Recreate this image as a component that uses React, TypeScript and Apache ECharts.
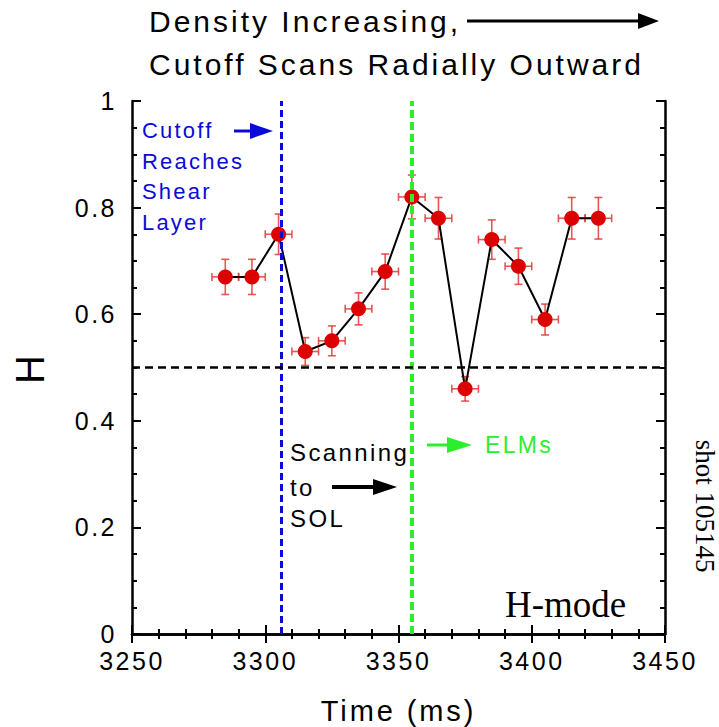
import React, { useEffect, useRef } from "react";
import * as echarts from "echarts";

const times = [3285, 3295, 3305, 3315, 3325, 3335, 3345, 3355, 3365, 3375, 3385, 3395, 3405, 3415, 3425];
const hValues = [0.67, 0.67, 0.75, 0.53, 0.55, 0.61, 0.68, 0.82, 0.78, 0.46, 0.74, 0.69, 0.59, 0.78, 0.78];
const hErrors = [0.033, 0.033, 0.038, 0.026, 0.028, 0.03, 0.033, 0.041, 0.039, 0.023, 0.037, 0.034, 0.029, 0.039, 0.039];
const timeErrors = [5, 5, 5, 5, 5, 5, 5, 5, 5, 5, 5, 5, 5, 5, 5];
const xTicks = [3250, 3300, 3350, 3400, 3450];
const yTicks = [0, 0.2, 0.4, 0.6, 0.8, 1];
const cutoffTime = 3306;
const elmTime = 3355;
const hThreshold = 0.5;

const SANS = "'Liberation Sans', Arial, Helvetica, sans-serif";
const SERIF = "'Liberation Serif', 'Times New Roman', serif";
const BLUE = "#0a0ad8";
const GREEN = "#2cee2c";
const RED = "#dd0000";

function arrow(x1: number, x2: number, y: number, color: string, headLen: number, headHalf: number, width: number) {
  return {
    type: "group",
    children: [
      { type: "line", shape: { x1, y1: y, x2: x2 - headLen + 2, y2: y }, style: { stroke: color, lineWidth: width } },
      {
        type: "polygon",
        shape: { points: [[x2 - headLen, y - headHalf], [x2, y], [x2 - headLen, y + headHalf]] },
        style: { fill: color },
      },
    ],
  };
}

function txt(text: string, x: number, y: number, size: number, color: string, family = SANS, extra: any = {}) {
  return {
    type: "text",
    x,
    y,
    ...extra,
    style: {
      text,
      fill: color,
      font: `${size}px ${family}`,
      textAlign: extra.textAlign || "left",
      textVerticalAlign: "middle",
    },
  };
}

export default function App() {
  const ref = useRef<HTMLDivElement>(null);
  useEffect(() => {
    document.body.style.margin = "0";
    if (!ref.current) return;
    const chart = echarts.init(ref.current, undefined, { renderer: "svg" });
    const axisLine = { show: true, lineStyle: { color: "#000", width: 2.5 } };
    const axisTick = { show: true, inside: true, length: 9, lineStyle: { color: "#000", width: 2 } };
    const minorX = { show: true, splitNumber: 5, length: 5, lineStyle: { color: "#000", width: 2 } };
    const minorY = { show: true, splitNumber: 4, length: 5, lineStyle: { color: "#000", width: 2 } };
    const labelStyle = { color: "#000", fontSize: 25, fontFamily: SANS, formatter: (v: number) => String(v) };

    const errStyle = { stroke: "#e43a3a", lineWidth: 1.6, opacity: 0.85 };

    chart.setOption({
      animation: false,
      backgroundColor: "#fff",
      grid: { left: 132, right: 54, top: 101, bottom: 93, containLabel: false, outerBoundsMode: "none" },
      xAxis: [
        {
          type: "value",
          min: xTicks[0],
          max: xTicks[xTicks.length - 1],
          interval: 50,
          position: "bottom",
          axisLine,
          axisTick,
          minorTick: minorX,
          splitLine: { show: false },
          axisLabel: { ...labelStyle, margin: 14, showMinLabel: true, showMaxLabel: true },
          name: "Time (ms)",
          nameLocation: "middle",
          nameGap: 62,
          nameTextStyle: { color: "#000", fontSize: 29, fontFamily: SANS },
        },
        {
          type: "value",
          min: xTicks[0],
          max: xTicks[xTicks.length - 1],
          interval: 50,
          position: "top",
          axisLine,
          axisTick,
          minorTick: minorX,
          splitLine: { show: false },
          axisLabel: { show: false },
        },
      ],
      yAxis: [
        {
          type: "value",
          min: yTicks[0],
          max: yTicks[yTicks.length - 1],
          interval: 0.2,
          position: "left",
          axisLine,
          axisTick,
          minorTick: minorY,
          splitLine: { show: false },
          axisLabel: { ...labelStyle, margin: 15 },
          name: "H",
          nameLocation: "middle",
          nameRotate: 90,
          nameGap: 82,
          nameTextStyle: { color: "#000", fontSize: 40, fontFamily: SANS },
        },
        {
          type: "value",
          min: yTicks[0],
          max: yTicks[yTicks.length - 1],
          interval: 0.2,
          position: "right",
          axisLine,
          axisTick,
          minorTick: minorY,
          splitLine: { show: false },
          axisLabel: { show: false },
        },
      ],
      series: [
        {
          type: "custom",
          xAxisIndex: 0,
          yAxisIndex: 0,
          z: 2,
          encode: { x: 0, y: 1 },
          data: times.map((t, i) => [t, hValues[i], hErrors[i], timeErrors[i]]),
          renderItem: (params: any, api: any) => {
            const x = api.value(0);
            const y = api.value(1);
            const ey = api.value(2);
            const ex = api.value(3);
            const c = api.coord([x, y]);
            const l = api.coord([x - ex, y]);
            const r = api.coord([x + ex, y]);
            const t = api.coord([x, y + ey]);
            const b = api.coord([x, y - ey]);
            const cap = 4;
            return {
              type: "group",
              children: [
                { type: "line", shape: { x1: l[0], y1: c[1], x2: r[0], y2: c[1] }, style: errStyle },
                { type: "line", shape: { x1: c[0], y1: t[1], x2: c[0], y2: b[1] }, style: errStyle },
                { type: "line", shape: { x1: l[0], y1: c[1] - cap, x2: l[0], y2: c[1] + cap }, style: errStyle },
                { type: "line", shape: { x1: r[0], y1: c[1] - cap, x2: r[0], y2: c[1] + cap }, style: errStyle },
                { type: "line", shape: { x1: c[0] - cap, y1: t[1], x2: c[0] + cap, y2: t[1] }, style: errStyle },
                { type: "line", shape: { x1: c[0] - cap, y1: b[1], x2: c[0] + cap, y2: b[1] }, style: errStyle },
              ],
            };
          },
        },
        {
          type: "line",
          xAxisIndex: 0,
          yAxisIndex: 0,
          z: 3,
          data: times.map((t, i) => [t, hValues[i]]),
          symbol: "circle",
          symbolSize: 15,
          itemStyle: { color: RED },
          lineStyle: { color: "#000", width: 2 },
        },
        {
          type: "line",
          xAxisIndex: 0,
          yAxisIndex: 0,
          z: 5,
          data: [],
          markLine: {
            silent: true,
            symbol: ["none", "none"],
            label: { show: false },
            data: [
              { xAxis: cutoffTime, lineStyle: { color: BLUE, width: 3, type: [7, 4] } },
              { xAxis: elmTime, lineStyle: { color: GREEN, width: 4, type: [8, 4] } },
              { yAxis: hThreshold, lineStyle: { color: "#000", width: 2.5, type: [8, 5] } },
            ],
          },
        },
      ],
      graphic: [
        txt("Density Increasing,", 149, 21, 30, "#000"),
        arrow(467, 659, 21, "#000", 21, 8, 3),
        txt("Cutoff Scans Radially Outward", 149, 64, 30, "#000"),
        txt("Cutoff", 142, 130, 22, BLUE),
        txt("Reaches", 142, 161, 22, BLUE),
        txt("Shear", 142, 191, 22, BLUE),
        txt("Layer", 142, 222, 22, BLUE),
        arrow(234, 273, 131, BLUE, 23, 8, 3),
        txt("Scanning", 290, 452, 24, "#000"),
        txt("to", 290, 487, 24, "#000"),
        txt("SOL", 290, 518, 24, "#000"),
        arrow(332, 397, 487, "#000", 24, 8, 4),
        arrow(427, 472, 445, GREEN, 25, 8, 3),
        txt("ELMs", 485, 445, 23, GREEN),
        txt("H-mode", 505, 604, 37, "#000", SERIF),
        txt("shot 105145", 705, 506, 27, "#000", SERIF, { rotation: -Math.PI / 2, textAlign: "center" }),
      ],
    });
    return () => chart.dispose();
  }, []);
  return (
    <>
      <style>{`.chartbox svg text { letter-spacing: 0.1em; } .chartbox svg text[style*="Serif"] { letter-spacing: 0; }`}</style>
      <div className="chartbox" ref={ref} style={{ width: 719, height: 727 }} />
    </>
  );
}
